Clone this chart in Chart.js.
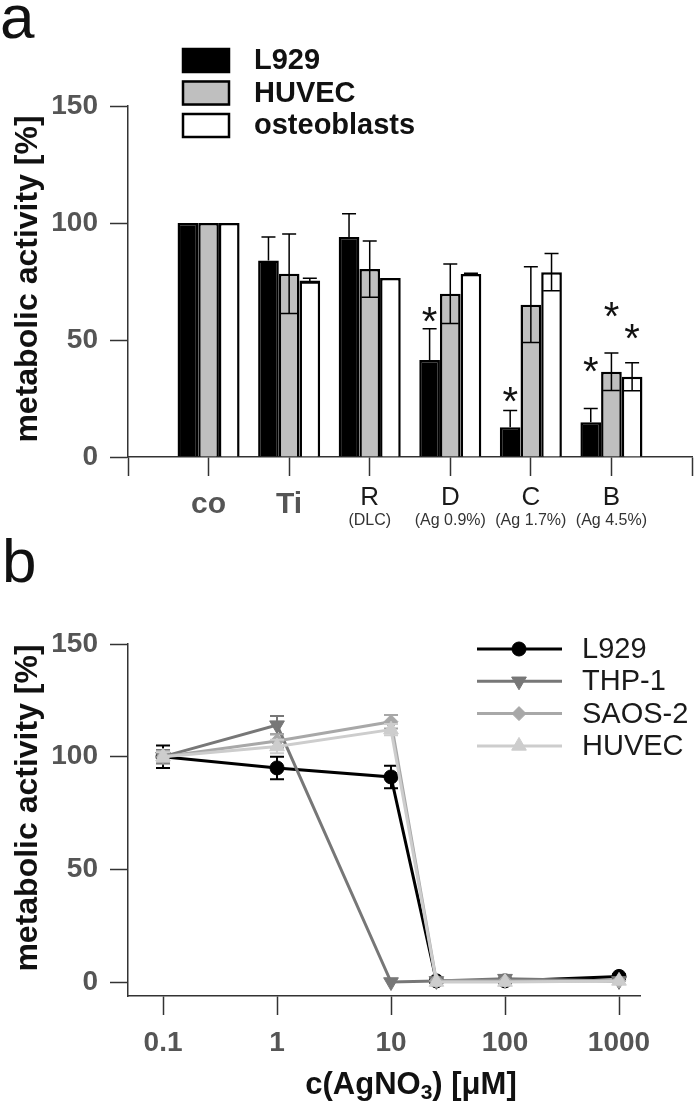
<!DOCTYPE html>
<html>
<head>
<meta charset="utf-8">
<title>metabolic activity</title>
<script src="https://cdn.jsdelivr.net/npm/chart.js@4.4.1/dist/chart.umd.min.js"></script>
<style>
  body { margin: 0; background: #fff; }
  canvas { display: block; }
</style>
</head>
<body>
<canvas id="barChart" width="700" height="530"></canvas>
<canvas id="lineChart" width="700" height="575"></canvas>
<script>
// ---- panel a: coatings ----
const categories = ['co', 'Ti', 'R', 'D', 'C', 'B'];
const subLabels = ['', '', '(DLC)', '(Ag 0.9%)', '(Ag 1.7%)', '(Ag 4.5%)'];
const boldCategories = ['co', 'Ti'];
const l929 = [100, 84, 94, 41.5, 12.7, 14.8];
const l929Err = [0, 10, 10, 13.3, 7.2, 5.9];
const huvec = [100, 78.3, 80.3, 69.8, 65.1, 36.4];
const huvecErr = [0, 17, 12, 12.7, 16.2, 8];
const osteo = [100, 75.4, 76.5, 78.2, 79, 34.3];
const osteoErr = [0, 1, 0, 0.3, 8, 6];
// significance stars: which series, which category, at what height
const starSeries = [0, 0, 0, 1, 2];
const starCategory = [3, 4, 5, 5, 5];
const starValue = [61, 26.5, 39.7, 63, 53.8];
const barTicks = [0, 50, 100, 150];

// ---- panel b: AgNO3 dose response ----
const conc = [0.1, 1, 10, 25, 100, 1000];
const concTicks = [0.1, 1, 10, 100, 1000];
const lineTicks = [0, 50, 100, 150];
const l929B = [100, 95, 91, 0.5, 0.5, 2.5];
const l929BErr = [5, 5, 5, 0.5, 0.5, 1];
const thp1 = [100, 114, 0, 0.5, 1.5, 0.5];
const thp1Err = [3, 4, 0.5, 0.5, 1.5, 0.5];
const saos2 = [100, 107, 115.5, 0.5, 0.5, 0.5];
const saos2Err = [2.5, 3, 3, 0.5, 0.5, 0.5];
const huvecB = [100, 104.5, 112, 0, 0, 0.5];
const huvecBErr = [2, 3, 2.5, 0.5, 0.5, 0.5];

const FONT = "'Liberation Sans', Arial, sans-serif";
const f = (size, weight) => (weight || '') + ' ' + size + 'px ' + FONT;

function rotatedText(ctx, text, x, y, font) {
  ctx.save();
  ctx.translate(x, y);
  ctx.rotate(-Math.PI / 2);
  ctx.font = font;
  ctx.fillStyle = '#111';
  ctx.textAlign = 'center';
  ctx.textBaseline = 'middle';
  ctx.fillText(text, 0, 0);
  ctx.restore();
}

const pad = arr => [null, ...arr, null];

const barExtras = {
  id: 'barExtras',
  afterDatasetDraw(chart, args) {
    const ds = chart.data.datasets[args.index];
    const ctx = chart.ctx, y = chart.scales.y;
    ctx.save();
    ctx.strokeStyle = '#000';
    ctx.lineWidth = 1.5;
    args.meta.data.forEach((el, i) => {
      const v = ds.data[i], e = ds.err[i];
      if (v == null || !e) return;
      const top = y.getPixelForValue(v + e), bot = y.getPixelForValue(v - e);
      const low = el.width / 2 - 2;
      ctx.beginPath();
      ctx.moveTo(el.x, top);
      // lower half is hidden inside the black bars anyway
      ctx.lineTo(el.x, args.index === 0 ? el.y : bot);
      ctx.moveTo(el.x - 7, top); ctx.lineTo(el.x + 7, top);
      if (args.index > 0) { ctx.moveTo(el.x - low, bot); ctx.lineTo(el.x + low, bot); }
      ctx.stroke();
    });
    ctx.restore();
  },
  afterDraw(chart) {
    const ctx = chart.ctx, x = chart.scales.x, y = chart.scales.y;
    ctx.save();
    // stars
    ctx.font = f(40);
    ctx.fillStyle = '#111';
    ctx.textAlign = 'center';
    ctx.textBaseline = 'alphabetic';
    const m = ctx.measureText('*');
    starValue.forEach((v, k) => {
      const el = chart.getDatasetMeta(starSeries[k]).data[starCategory[k] + 1];
      const cy = y.getPixelForValue(v);
      ctx.fillText('*', el.x, cy + (m.actualBoundingBoxAscent - m.actualBoundingBoxDescent) / 2);
    });
    // second line of category labels
    ctx.font = f(16);
    ctx.fillStyle = '#333';
    ctx.textBaseline = 'middle';
    subLabels.forEach((t, i) => { if (t) ctx.fillText(t, x.getPixelForTick(i + 1), 521); });
    // legend
    chart.data.datasets.forEach((ds, i) => {
      const top = 48 + i * 32.5;
      ctx.fillStyle = ds.backgroundColor;
      ctx.fillRect(182, top, 48, 25);
      ctx.strokeStyle = '#000';
      ctx.lineWidth = 2.5;
      ctx.strokeRect(183, top + 1, 46, 23);
      ctx.fillStyle = '#111';
      ctx.font = f(29, 'bold');
      ctx.textAlign = 'left';
      ctx.fillText(ds.label, 254, top + 13);
    });
    ctx.restore();
    rotatedText(ctx, 'metabolic activity [%]', 28, 279, f(32, 'bold'));
    ctx.save();
    ctx.font = f(62);
    ctx.fillStyle = '#111';
    ctx.textBaseline = 'alphabetic';
    ctx.fillText('a', 0, 38);
    ctx.restore();
  }
};

new Chart(document.getElementById('barChart'), {
  type: 'bar',
  data: {
    labels: pad(categories).map(c => c || ''),
    datasets: [
      { label: 'L929', data: pad(l929), err: pad(l929Err), backgroundColor: '#000000' },
      { label: 'HUVEC', data: pad(huvec), err: pad(huvecErr), backgroundColor: '#bfbfbf' },
      { label: 'osteoblasts', data: pad(osteo), err: pad(osteoErr), backgroundColor: '#ffffff' }
    ]
  },
  options: {
    responsive: false,
    animation: false,
    layout: { padding: { top: 106, right: 5, left: 0, bottom: 0 } },
    plugins: { legend: { display: false }, tooltip: { enabled: false } },
    datasets: {
      bar: { categoryPercentage: 0.77, barPercentage: 1, borderColor: '#000', borderWidth: 2.5 }
    },
    scales: {
      x: {
        offset: false,
        grid: { offset: false, drawOnChartArea: false, tickLength: 19, tickColor: '#333', tickWidth: 1.5 },
        border: { color: '#333', width: 1.5 },
        ticks: {
          autoSkip: false,
          maxRotation: 0,
          padding: 8,
          font: ctx => {
            const lab = ctx.tick ? ctx.tick.label : '';
            return boldCategories.includes(lab)
              ? { family: FONT, size: 30, weight: 'bold', lineHeight: '42px' }
              : { family: FONT, size: 26, lineHeight: '28px' };
          },
          color: ctx => boldCategories.includes(ctx.tick ? ctx.tick.label : '') ? '#555' : '#1a1a1a'
        },
        afterFit: s => { s.height = 73; }
      },
      y: {
        min: 0,
        max: 150,
        grid: { drawOnChartArea: false, tickLength: 18, tickColor: '#333', tickWidth: 1.5 },
        border: { color: '#333', width: 1.5 },
        ticks: { padding: 12, color: '#555', font: { family: FONT, size: 28, weight: 'bold' } },
        afterBuildTicks: s => { s.ticks = barTicks.map(v => ({ value: v })); },
        afterFit: s => { s.width = 128; }
      }
    }
  },
  plugins: [barExtras]
});

// ---- panel b ----
const lineSeries = [
  { label: 'L929', values: l929B, err: l929BErr, color: '#000000', style: 'circle', r: 7, rot: 0 },
  { label: 'THP-1', values: thp1, err: thp1Err, color: '#777777', style: 'triangle', r: 8.5, rot: 180 },
  { label: 'SAOS-2', values: saos2, err: saos2Err, color: '#a8a8a8', style: 'rectRot', r: 7, rot: 0 },
  { label: 'HUVEC', values: huvecB, err: huvecBErr, color: '#cdcdcd', style: 'triangle', r: 8.5, rot: 0 }
];

const lineExtras = {
  id: 'lineExtras',
  afterDatasetDraw(chart, args) {
    const ds = chart.data.datasets[args.index];
    const ctx = chart.ctx, y = chart.scales.y;
    ctx.save();
    ctx.strokeStyle = ds.borderColor;
    ctx.lineWidth = 2;
    args.meta.data.forEach((pt, i) => {
      const v = ds.data[i].y, e = ds.err[i];
      const top = y.getPixelForValue(v + e), bot = y.getPixelForValue(v - e);
      if (bot - top < 3) return;
      ctx.beginPath();
      ctx.moveTo(pt.x, top); ctx.lineTo(pt.x, bot);
      ctx.moveTo(pt.x - 7, top); ctx.lineTo(pt.x + 7, top);
      ctx.moveTo(pt.x - 7, bot); ctx.lineTo(pt.x + 7, bot);
      ctx.stroke();
    });
    ctx.restore();
  },
  afterDraw(chart) {
    const ctx = chart.ctx;
    ctx.save();
    // legend
    chart.data.datasets.forEach((ds, i) => {
      const cy = 119 + i * 32.3;
      ctx.strokeStyle = ds.borderColor;
      ctx.lineWidth = 3;
      ctx.beginPath();
      ctx.moveTo(477, cy); ctx.lineTo(562, cy);
      ctx.stroke();
      ctx.fillStyle = ds.pointBackgroundColor;
      ctx.lineWidth = 1;
      Chart.helpers.drawPoint(ctx, {
        pointStyle: ds.pointStyle, radius: ds.pointRadius, rotation: ds.pointRotation, borderWidth: 1
      }, 519, cy);
      ctx.fillStyle = '#1a1a1a';
      ctx.font = f(29);
      ctx.textAlign = 'left';
      ctx.textBaseline = 'middle';
      ctx.fillText(ds.label, 582, cy + 1);
    });
    // x axis title with subscript
    const parts = ['c(AgNO', '3', ') [μM]'];
    const big = f(31, 'bold'), small = f(21, 'bold');
    ctx.font = big; const w0 = ctx.measureText(parts[0]).width, w2 = ctx.measureText(parts[2]).width;
    ctx.font = small; const w1 = ctx.measureText(parts[1]).width;
    let x0 = 411 - (w0 + w1 + w2) / 2;
    ctx.fillStyle = '#111';
    ctx.textAlign = 'left';
    ctx.textBaseline = 'middle';
    ctx.font = big; ctx.fillText(parts[0], x0, 555);
    ctx.font = small; ctx.fillText(parts[1], x0 + w0, 563);
    ctx.font = big; ctx.fillText(parts[2], x0 + w0 + w1, 555);
    ctx.restore();
    rotatedText(ctx, 'metabolic activity [%]', 28, 278, f(32, 'bold'));
    ctx.save();
    ctx.font = f(62);
    ctx.fillStyle = '#111';
    ctx.textBaseline = 'alphabetic';
    ctx.fillText('b', 2, 52);
    ctx.restore();
  }
};

new Chart(document.getElementById('lineChart'), {
  type: 'line',
  data: {
    datasets: lineSeries.map((s, k) => ({
      label: s.label,
      data: conc.map((c, i) => ({ x: c, y: s.values[i] })),
      err: s.err,
      borderColor: s.color,
      backgroundColor: s.color,
      pointBackgroundColor: s.color,
      pointBorderColor: s.color,
      pointBorderWidth: 1,
      pointStyle: s.style,
      pointRadius: s.r,
      pointRotation: s.rot,
      borderWidth: 3,
      tension: 0,
      fill: false,
      clip: false,
      order: lineSeries.length - 1 - k
    }))
  },
  options: {
    responsive: false,
    animation: false,
    layout: { padding: { top: 114, right: 60, left: 0, bottom: 0 } },
    plugins: { legend: { display: false }, tooltip: { enabled: false } },
    scales: {
      x: {
        type: 'logarithmic',
        min: 0.0493,
        max: 1528,
        bounds: 'data',
        grid: { drawOnChartArea: false, tickLength: 19, tickColor: '#333', tickWidth: 1.5 },
        border: { color: '#333', width: 1.5 },
        ticks: {
          autoSkip: false,
          maxRotation: 0,
          padding: 11,
          color: '#555',
          font: { family: FONT, size: 28, weight: 'bold' },
          callback: v => String(v)
        },
        afterBuildTicks: s => { s.ticks = concTicks.map(v => ({ value: v })); },
        afterFit: s => { s.height = 109; }
      },
      y: {
        min: -6.2,
        max: 150,
        grid: { drawOnChartArea: false, tickLength: 18, tickColor: '#333', tickWidth: 1.5 },
        border: { color: '#333', width: 1.5 },
        ticks: { padding: 12, color: '#555', font: { family: FONT, size: 28, weight: 'bold' } },
        afterBuildTicks: s => { s.ticks = lineTicks.map(v => ({ value: v })); },
        afterFit: s => { s.width = 128; }
      }
    }
  },
  plugins: [lineExtras]
});
</script>
</body>
</html>
